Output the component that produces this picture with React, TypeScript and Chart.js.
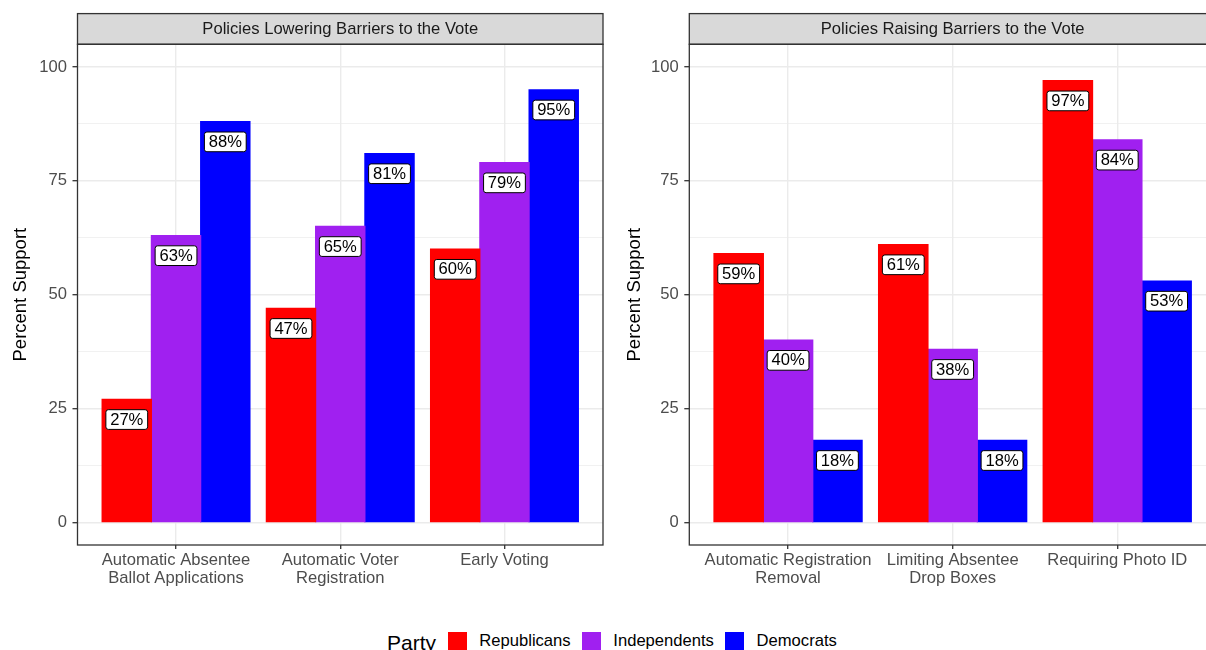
import React, { useEffect, useRef } from "react";
import { Chart, registerables } from "chart.js";

Chart.register(...registerables);

// ---------- data ----------
const PARTIES = ["Republicans", "Independents", "Democrats"];
const PARTY_COLORS = ["#FF0000", "#A020F0", "#0000FF"];

const LOWER_TITLE = "Policies Lowering Barriers to the Vote";
const LOWER_CATEGORIES = [
  ["Automatic Absentee", "Ballot Applications"],
  ["Automatic Voter", "Registration"],
  ["Early Voting"],
];
const LOWER_REP = [27, 47, 60];
const LOWER_IND = [63, 65, 79];
const LOWER_DEM = [88, 81, 95];

const RAISE_TITLE = "Policies Raising Barriers to the Vote";
const RAISE_CATEGORIES = [
  ["Automatic Registration", "Removal"],
  ["Limiting Absentee", "Drop Boxes"],
  ["Requiring Photo ID"],
];
const RAISE_REP = [59, 61, 97];
const RAISE_IND = [40, 38, 84];
const RAISE_DEM = [18, 18, 53];

const Y_TICKS = [0, 12.5, 25, 37.5, 50, 62.5, 75, 87.5, 100];
const Y_LABEL_STEP = 25;
const Y_MIN = -5;
const Y_MAX = 105;
const Y_TITLE = "Percent Support";
const LEGEND_TITLE = "Party";

// ---------- styles ----------
const FONT = '"Liberation Sans", Arial, Helvetica, sans-serif';
const GRID = "#EBEBEB";
const DARK = "#333333";

const stripPlugin = {
  id: "strip",
  afterDraw(chart: any, _args: any, opts: any) {
    const { ctx, chartArea } = chart;
    const h = 30.7;
    const { left, right, top } = chartArea;
    ctx.save();
    ctx.fillStyle = "#D9D9D9";
    ctx.fillRect(left, top - h, right - left, h);
    ctx.strokeStyle = DARK;
    ctx.lineWidth = 1.3;
    ctx.strokeRect(left, top - h, right - left, h);
    ctx.fillStyle = "#1A1A1A";
    ctx.font = `16.6px ${FONT}`;
    ctx.textAlign = "center";
    ctx.textBaseline = "middle";
    ctx.fillText(opts.text, (left + right) / 2, top - h / 2 + 0.5);
    // panel border
    ctx.strokeRect(left, top, right - left, chartArea.bottom - top);
    ctx.restore();
  },
};

const labelPlugin = {
  id: "barLabels",
  afterDatasetsDraw(chart: any) {
    const ctx = chart.ctx;
    ctx.save();
    ctx.font = `16.6px ${FONT}`;
    chart.data.datasets.forEach((ds: any, di: number) => {
      const meta = chart.getDatasetMeta(di);
      meta.data.forEach((bar: any, i: number) => {
        const v = ds.data[i].y;
        const text = `${v}%`;
        const tw = ctx.measureText(text).width;
        const w = tw + 8.6;
        const h = 19.7;
        const cx = bar.x;
        const cy = bar.y + 20.2;
        ctx.beginPath();
        if (ctx.roundRect) ctx.roundRect(cx - w / 2, cy - h / 2, w, h, 2.5);
        else ctx.rect(cx - w / 2, cy - h / 2, w, h);
        ctx.fillStyle = "#FFFFFF";
        ctx.fill();
        ctx.strokeStyle = "#000000";
        ctx.lineWidth = 1;
        ctx.stroke();
        ctx.fillStyle = "#000000";
        ctx.textAlign = "center";
        ctx.textBaseline = "middle";
        ctx.fillText(text, cx, cy + 0.5);
      });
    });
    ctx.restore();
  },
};

type PanelProps = {
  title: string;
  categories: string[][];
  series: number[][];
  left: number;
  width: number;
  padRight: number;
  axisWidth: number;
  titlePad: number;
};

function Panel({ title, categories, series, left, width, padRight, axisWidth, titlePad }: PanelProps) {
  const ref = useRef<HTMLCanvasElement>(null);
  useEffect(() => {
    const canvas = ref.current!;
    const isMajor = (ctx: any) => ctx.tick && ctx.tick.value % Y_LABEL_STEP === 0;
    const chart = new Chart(canvas, {
      type: "bar",
      data: {
        datasets: series.map((vals, i) => ({
          label: PARTIES[i],
          data: vals.map((v, j) => ({ x: j + 1, y: v })),
          backgroundColor: PARTY_COLORS[i],
          borderWidth: 0,
          inflateAmount: 0.6,
          categoryPercentage: 0.9,
          barPercentage: 1.0,
        })),
      },
      options: {
        responsive: false,
        animation: false,
        devicePixelRatio: 1,
        layout: { padding: { top: 44.3, right: padRight, left: 0, bottom: 0 } },
        plugins: {
          legend: { display: false },
          tooltip: { enabled: false },
          strip: { text: title },
        } as any,
        scales: {
          x: {
            type: "linear",
            min: 0.4,
            max: 3.6,
            offset: false,
            bounds: "ticks",
            afterBuildTicks: (s: any) => {
              s.ticks = categories.map((_, i) => ({ value: i + 1 }));
            },
            afterDataLimits: (s: any) => {
              s.min = 0.4;
              s.max = 3.6;
            },
            afterFit: (s: any) => {
              s.height = 55;
            },
            ticks: {
              autoSkip: false,
              maxRotation: 0,
              minRotation: 0,
              padding: 3,
              color: "#4D4D4D",
              font: { family: FONT, size: 16.6, lineHeight: 1.06 },
              callback: (v: any) => categories[Math.round(v) - 1],
            },
            grid: {
              offset: false,
              color: GRID,
              lineWidth: 1.4,
              tickColor: DARK,
              tickLength: 4,
              tickWidth: 1.3,
            },
            border: { display: false },
          },
          y: {
            type: "linear",
            min: Y_MIN,
            max: Y_MAX,
            afterBuildTicks: (s: any) => {
              s.ticks = Y_TICKS.map((v) => ({ value: v }));
            },
            afterFit: (s: any) => {
              s.width = axisWidth;
            },
            ticks: {
              autoSkip: false,
              padding: 5.5,
              color: "#4D4D4D",
              font: { family: FONT, size: 16.6 },
              callback: (v: any) => (v % Y_LABEL_STEP === 0 ? String(v) : ""),
            },
            grid: {
              color: GRID,
              lineWidth: (ctx: any) => (isMajor(ctx) ? 1.4 : 0.7),
              tickColor: (ctx: any) => (isMajor(ctx) ? DARK : "rgba(0,0,0,0)"),
              tickLength: 5,
              tickWidth: 1.3,
            },
            border: { display: false },
            title: {
              display: true,
              text: Y_TITLE,
              color: "#000000",
              font: { family: FONT, size: 18.5 },
              padding: { top: titlePad, bottom: 0 },
            },
          },
        },
      } as any,
      plugins: [stripPlugin, labelPlugin],
    });
    return () => chart.destroy();
  }, []);
  return (
    <canvas
      ref={ref}
      width={width}
      height={600}
      style={{ position: "absolute", left, top: 0, width, height: 600 }}
    />
  );
}

function Legend() {
  const key = (c: string) => (
    <span style={{ display: "inline-block", width: 19.4, height: 19.4, background: c, marginRight: 12.3 }} />
  );
  return (
    <div
      style={{
        position: "absolute",
        left: 387,
        top: 631.7,
        height: 19.4,
        display: "flex",
        alignItems: "center",
        fontFamily: FONT,
        color: "#000",
        whiteSpace: "nowrap",
        lineHeight: 1,
      }}
    >
      <span style={{ fontSize: 21, marginRight: 11.6, position: "relative", top: 1 }}>{LEGEND_TITLE}</span>
      {PARTIES.map((p, i) => (
        <React.Fragment key={p}>
          {key(PARTY_COLORS[i])}
          <span style={{ fontSize: 16.6, marginRight: i < PARTIES.length - 1 ? 11 : 0 }}>{p}</span>
        </React.Fragment>
      ))}
    </div>
  );
}

export default function App() {
  return (
    <div
      style={{
        position: "fixed",
        left: 0,
        top: 0,
        width: 1206,
        height: 650,
        overflow: "hidden",
        background: "#FFFFFF",
      }}
    >
      <Panel
        title={LOWER_TITLE}
        categories={LOWER_CATEGORIES}
        series={[LOWER_REP, LOWER_IND, LOWER_DEM]}
        left={0}
        width={610}
        padRight={7}
        axisWidth={77.5}
        titlePad={9.5}
      />
      <Panel
        title={RAISE_TITLE}
        categories={RAISE_CATEGORIES}
        series={[RAISE_REP, RAISE_IND, RAISE_DEM]}
        left={610}
        width={620}
        padRight={14}
        axisWidth={79.3}
        titlePad={13.5}
      />
      <Legend />
    </div>
  );
}
